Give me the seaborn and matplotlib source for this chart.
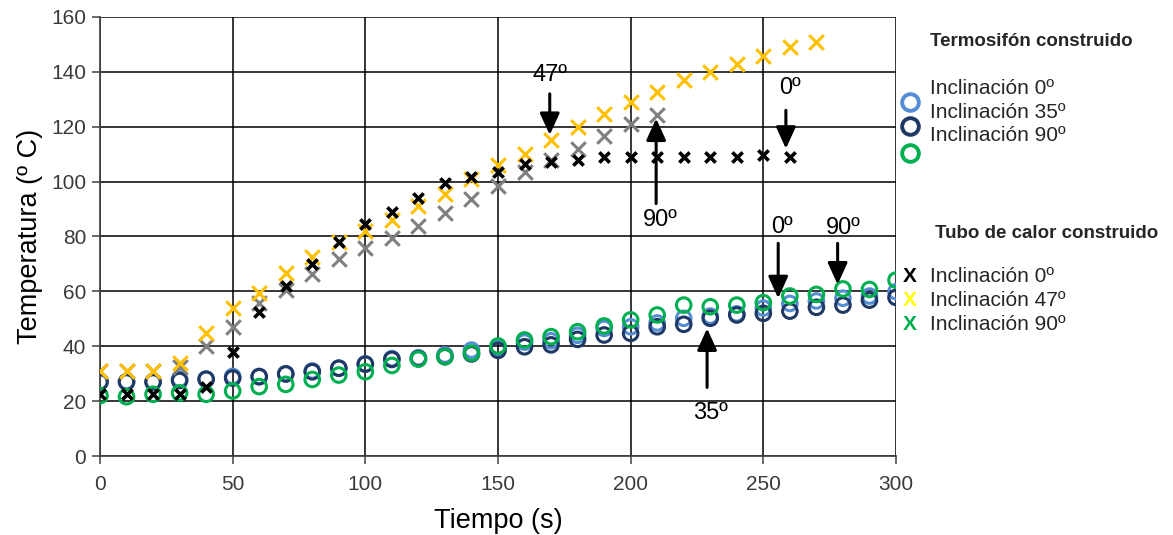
import numpy as np
import pandas as pd
import matplotlib
matplotlib.use("Agg")
import matplotlib.pyplot as plt
import seaborn as sns

# ---- data ----
tiempo = list(range(0, 310, 10))

# Termosifón construido (circles)
termo_0 = [27, 27, 27, 28, 28, 29, 29, 30, 31, 32, 33.5, 35.5, 35.8, 36.8, 38.6, 39.5,
           41.5, 42, 44, 46.5, 47.1, 48.5, 50.2, 51, 51.8, 53.9, 55.6, 56.5, 57.5, 58.3, 59.9]
termo_35 = [27, 27, 27, 27.5, 28, 28.4, 28.9, 29.9, 30.7, 32, 33.5, 35.2, 35.5, 36.2, 37.2, 38.5,
            39.8, 40.5, 42.5, 44.1, 44.7, 47.1, 48, 50.2, 51.4, 52, 52.8, 54.2, 55, 56.8, 57.8]
termo_90 = [22, 21.6, 22.5, 23, 22.5, 23.7, 25.3, 26.1, 27.9, 29.5, 30.7, 33, 35.3, 36.2, 37.5, 40.1,
            42.3, 43.5, 45.3, 47.4, 49.6, 51.4, 55, 54.4, 55, 55.9, 58.3, 58.9, 60.9, 60.7, 64.1]

# Tubo de calor construido (crosses)
tubo_t0 = tiempo[:27]
tubo_0 = [22.6, 22.6, 22.6, 22.6, 25, 38, 52.5, 62, 70, 78, 84.5, 89, 94, 99.5, 101.8, 103.6,
          106.3, 107.3, 108, 109, 109, 109, 109, 109, 109, 109.8, 109]
tubo_t47 = tiempo[:28]
tubo_47 = [31, 31, 31, 34, 45, 54, 59.5, 66.7, 72.6, 78, 82, 86, 91, 95.5, 101, 106,
           110, 115, 120, 124.6, 129, 132.6, 137, 139.8, 143, 145.8, 149, 151]
tubo_t90 = tiempo[:22]
tubo_90 = [31, 31, 31, 32.5, 40, 47, 55.6, 60.5, 66.3, 71.7, 75.7, 79.6, 84, 88.5, 93.6, 98.5,
           103.6, 108, 112, 116.8, 121, 124.3]

xticks = [0, 50, 100, 150, 200, 250, 300]
yticks = [0, 20, 40, 60, 80, 100, 120, 140, 160]

# annotations: (label, text x, text y, arrow tail, arrow head)
annots = [
    ("47º", 169.5, 139, (169.5, 132), (169.5, 117)),
    ("0º", 260, 134, (258.5, 126), (258.5, 112)),
    ("90º", 211, 86, (209.6, 92), (209.6, 123)),
    ("0º", 257, 83.5, (255.6, 77.5), (255.6, 57.5)),
    ("90º", 280, 83, (278, 77.5), (278, 62.5)),
    ("35º", 230, 15.5, (228.8, 25), (228.8, 46.5)),
]

c_lblue = "#558ED5"
c_navy = "#1F3864"
c_green = "#00B050"
c_yellow = "#FFC000"
c_gray = "#808080"

sns.set_theme(style="white")
plt.rcParams["font.family"] = ["Liberation Sans", "DejaVu Sans"]

fig = plt.figure(figsize=(11.73, 5.35), dpi=100)
ax = fig.add_axes([100 / 1173, 1 - 456 / 535, 796 / 1173, 439 / 535])

def circ(t, v, col):
    df = pd.DataFrame({"t": t, "v": v})
    sns.scatterplot(data=df, x="t", y="v", ax=ax, marker="o", s=110,
                    facecolor="none", edgecolor=col, linewidth=2.2, zorder=3)

def cross(t, v, col, s=90, lw=2.0):
    df = pd.DataFrame({"t": t, "v": v})
    sns.scatterplot(data=df, x="t", y="v", ax=ax, marker="x", s=s,
                    color=col, linewidth=lw, zorder=4)

circ(tiempo, termo_0, c_lblue)
circ(tiempo, termo_35, c_navy)
circ(tiempo, termo_90, c_green)
cross(tubo_t90, tubo_90, c_gray, s=110, lw=2.2)
cross(tubo_t47, tubo_47, c_yellow, s=110, lw=2.2)
cross(tubo_t0, tubo_0, "black", s=55, lw=2.6)

ax.set_xlim(0, 300)
ax.set_ylim(0, 160)
ax.set_xticks(xticks)
ax.set_yticks(yticks)
ax.grid(True, color="black", linewidth=1.1)
ax.set_axisbelow(True)
for sp in ax.spines.values():
    sp.set_visible(False)
ax.spines["left"].set_visible(True)
ax.spines["left"].set_color("#404040")
ax.spines["bottom"].set_visible(True)
ax.spines["bottom"].set_color("#404040")
ax.tick_params(axis="both", which="both", direction="out", length=6, width=1.1,
               color="#404040", labelsize=15, labelcolor="#3a3a3a",
               left=True, bottom=True)
ax.tick_params(axis="y", pad=4)
ax.tick_params(axis="x", pad=8)
ax.set_xlabel("Tiempo (s)", fontsize=19.5, labelpad=10, color="black")
ax.set_ylabel("Temperatura (º C)", fontsize=19.5, labelpad=6, color="black")

for lab, tx, ty, tail, head in annots:
    ax.text(tx, ty, lab, fontsize=17, ha="center", va="center", color="black")
    ax.annotate("", xy=head, xytext=tail,
                arrowprops=dict(arrowstyle="-|>,head_width=0.5,head_length=1.1",
                                color="black", lw=2.2, shrinkA=0, shrinkB=0))

# custom legend
def fx(px):
    return px / 1173

def fy(py):
    return 1 - py / 535

fig.text(fx(930), fy(41), "Termosifón construido", fontsize=13.5, fontweight="bold",
         va="center", ha="left")
for yy, txt in zip([88, 112, 136], ["Inclinación 0º", "Inclinación 35º", "Inclinación 90º"]):
    fig.text(fx(930), fy(yy), txt, fontsize=15, va="center", ha="left")
for yy, col in zip([102, 126, 153], [c_lblue, c_navy, c_green]):
    fig.lines.append(matplotlib.lines.Line2D([fx(910)], [fy(yy)], marker="o", markersize=12,
                                             markerfacecolor="none", markeredgecolor=col,
                                             markeredgewidth=2.8, transform=fig.transFigure))

fig.text(fx(935), fy(233), "Tubo de calor construido", fontsize=13.5, fontweight="bold",
         va="center", ha="left")
for yy, txt, col in zip([277, 301, 325], ["Inclinación 0º", "Inclinación 47º", "Inclinación 90º"],
                        ["black", "#FFFF00", c_green]):
    fig.text(fx(910), fy(yy), "X", fontsize=15, fontweight="bold", color=col,
             va="center", ha="center")
    fig.text(fx(930), fy(yy), txt, fontsize=15, va="center", ha="left")

fig.savefig("out.png", dpi=100)
